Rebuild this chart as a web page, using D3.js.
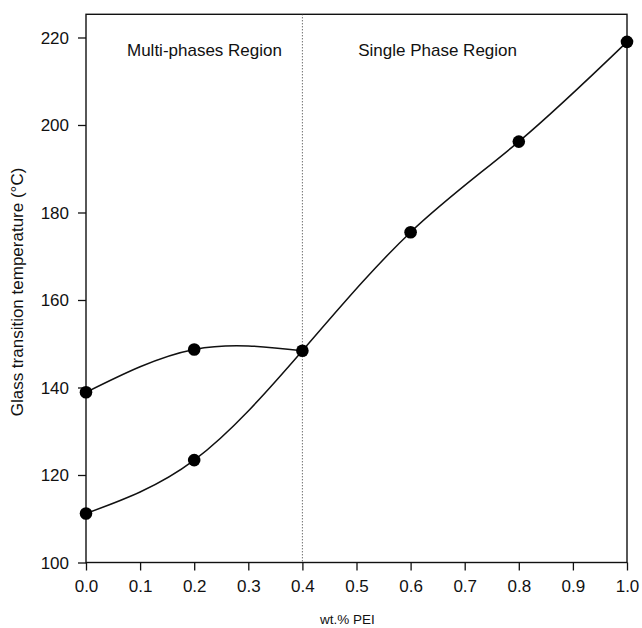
<!DOCTYPE html>
<html>
<head>
<meta charset="utf-8">
<script src="https://cdn.jsdelivr.net/npm/d3@7"></script>
<style>
  html, body { margin: 0; padding: 0; background: #fff; }
  svg { display: block; font-family: "Liberation Sans", Arial, Helvetica, sans-serif; }
</style>
</head>
<body>
<svg id="chart" width="642" height="628"></svg>
<script>
// Glass transition temperature vs. PEI weight fraction
const pei = [0.0, 0.2, 0.4, 0.6, 0.8, 1.0];
const tgLower = [111.2, 123.4, 148.4, 175.5, 196.2, 219.0];   // continuous branch
const peiUpper = [0.0, 0.2, 0.4];
const tgUpper = [138.9, 148.7, 148.4];                         // second Tg in the two-phase blends
const xTicks = [0.0, 0.1, 0.2, 0.3, 0.4, 0.5, 0.6, 0.7, 0.8, 0.9, 1.0];
const yTicks = [100, 120, 140, 160, 180, 200, 220];
const phaseBoundary = 0.4;
const regionLabels = ["Multi-phases Region", "Single Phase Region"];

const svg = d3.select("#chart");
const plotL = 86, plotR = 627, plotT = 14.3, plotB = 562.5;

const x = d3.scaleLinear().domain([0, 1]).range([plotL, plotR]);
const y = d3.scaleLinear().domain([100, 225.3]).range([plotB, plotT]);

// frame
svg.append("rect")
  .attr("x", plotL).attr("y", plotT)
  .attr("width", plotR - plotL).attr("height", plotB - plotT)
  .attr("fill", "none").attr("stroke", "#111").attr("stroke-width", 1.4);

// axes
const xAxis = d3.axisBottom(x).tickValues(xTicks).tickFormat(d3.format(".1f"))
  .tickSize(8).tickPadding(9);
const gx = svg.append("g").attr("transform", `translate(0,${plotB})`).call(xAxis);
const yAxis = d3.axisLeft(y).tickValues(yTicks).tickSize(8).tickPadding(9);
const gy = svg.append("g").attr("transform", `translate(${plotL},0)`).call(yAxis);
[gx, gy].forEach(g => {
  g.select(".domain").remove();
  g.selectAll(".tick line").attr("stroke", "#111").attr("stroke-width", 1.3);
  g.selectAll(".tick text").attr("fill", "#111")
    .style("font-size", "17px").style("font-family", "'Liberation Sans', Arial, sans-serif");
});
gx.selectAll(".tick text").attr("dy", "0.71em");
gy.selectAll(".tick text").attr("dy", "0.35em");

// axis titles
svg.append("text")
  .attr("x", (plotL + plotR) / 2 - 9).attr("y", 624)
  .attr("text-anchor", "middle").attr("fill", "#111")
  .style("font-size", "13.5px")
  .text("wt.% PEI");
svg.append("text")
  .attr("transform", `translate(23,${292}) rotate(-90)`)
  .attr("text-anchor", "middle").attr("fill", "#111")
  .style("font-size", "17px")
  .text("Glass transition temperature (°C)");

// phase boundary
svg.append("line")
  .attr("x1", x(phaseBoundary)).attr("x2", x(phaseBoundary))
  .attr("y1", plotT).attr("y2", plotB)
  .attr("stroke", "#333").attr("stroke-width", 1)
  .attr("stroke-dasharray", "1,2");

// region labels
svg.append("text").attr("x", 127).attr("y", 55.5).attr("fill", "#111")
  .style("font-size", "17px").text(regionLabels[0]);
svg.append("text").attr("x", 517).attr("y", 55.5).attr("fill", "#111")
  .attr("text-anchor", "end")
  .style("font-size", "17px").text(regionLabels[1]);

// curves
const line = d3.line().x(d => x(d[0])).y(d => y(d[1])).curve(d3.curveNatural);
const lowerPts = pei.map((p, i) => [p, tgLower[i]]);
const upperPts = peiUpper.map((p, i) => [p, tgUpper[i]]);

svg.append("path").datum(lowerPts).attr("d", line)
  .attr("fill", "none").attr("stroke", "#111").attr("stroke-width", 1.5);
svg.append("path").datum(upperPts).attr("d", line)
  .attr("fill", "none").attr("stroke", "#111").attr("stroke-width", 1.5);

// markers
svg.append("g").selectAll("circle")
  .data(lowerPts.concat(upperPts.slice(0, 2)))
  .join("circle")
  .attr("cx", d => x(d[0])).attr("cy", d => y(d[1]))
  .attr("r", 6.3).attr("fill", "#000");
</script>
</body>
</html>
